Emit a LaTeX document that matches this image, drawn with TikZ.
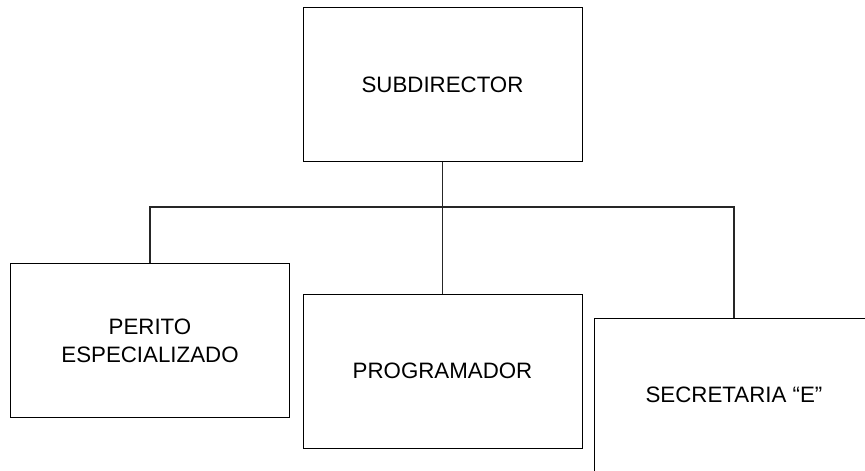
\documentclass[tikz,border=0pt]{standalone}
\usepackage{fontspec}
\setmainfont{Liberation Sans}
\begin{document}
\begin{tikzpicture}[x=1pt,y=-1pt,
  orgbox/.style={draw=black,line width=1pt,fill=white,minimum width=279pt,minimum height=154pt,
    inner sep=0pt,align=center,font=\fontsize{22.3}{28}\selectfont},
  link/.style={draw=black!85,line width=1.2pt}]
\useasboundingbox (0,0) rectangle (865,471);
\clip (0,0) rectangle (865,471);
\node[orgbox] (sub) at (442.5,84.5) {SUBDIRECTOR};
\node[orgbox] (perito) at (150,340.5) {PERITO\\ESPECIALIZADO};
\node[orgbox] (prog) at (442.5,371) {PROGRAMADOR};
\node[orgbox,minimum width=280pt] (sec) at (734,395) {SECRETARIA “E”};
\coordinate (bus) at (442.5,207);
\draw[link] (sub.south) -- (prog.north);
\draw[link] (perito.north) |- (bus) -| (sec.north);
\end{tikzpicture}
\end{document}
